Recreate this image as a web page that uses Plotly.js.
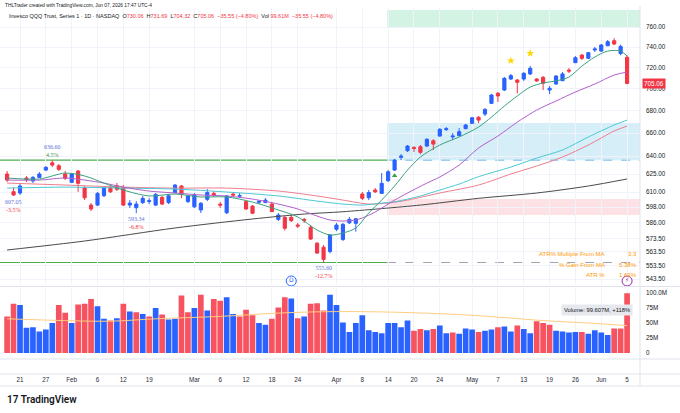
<!DOCTYPE html>
<html><head><meta charset="utf-8">
<script src="https://cdn.plot.ly/plotly-3.0.1.min.js"></script>
<style>html,body{margin:0;padding:0;background:#fff}#chart{width:680px;height:413px}</style>
</head><body><div id="chart"></div>
<script>
// ---------- data ----------
const dates = ['2026-01-16','2026-01-20','2026-01-21','2026-01-22','2026-01-23','2026-01-26','2026-01-27','2026-01-28','2026-01-29','2026-01-30',
'2026-02-02','2026-02-03','2026-02-04','2026-02-05','2026-02-06','2026-02-09','2026-02-10','2026-02-11','2026-02-12','2026-02-13','2026-02-17','2026-02-18','2026-02-19','2026-02-20','2026-02-23','2026-02-24','2026-02-25','2026-02-26','2026-02-27',
'2026-03-02','2026-03-03','2026-03-04','2026-03-05','2026-03-06','2026-03-09','2026-03-10','2026-03-11','2026-03-12','2026-03-13','2026-03-16','2026-03-17','2026-03-18','2026-03-19','2026-03-20','2026-03-23','2026-03-24','2026-03-25','2026-03-26','2026-03-27','2026-03-30','2026-03-31',
'2026-04-01','2026-04-02','2026-04-06','2026-04-07','2026-04-08','2026-04-09','2026-04-10','2026-04-13','2026-04-14','2026-04-15','2026-04-16','2026-04-17','2026-04-20','2026-04-21','2026-04-22','2026-04-23','2026-04-24','2026-04-27','2026-04-28','2026-04-29','2026-04-30',
'2026-05-01','2026-05-04','2026-05-05','2026-05-06','2026-05-07','2026-05-08','2026-05-11','2026-05-12','2026-05-13','2026-05-14','2026-05-15','2026-05-18','2026-05-19','2026-05-20','2026-05-21','2026-05-22','2026-05-26','2026-05-27','2026-05-28','2026-05-29',
'2026-06-01','2026-06-02','2026-06-03','2026-06-04','2026-06-05'];

const opens = [625.0,610.5,609.4,621.7,619.2,622.2,628.3,634.4,631.9,625.0,
618.1,627.5,613.7,599.7,599.7,607.2,613.7,615.3,613.7,599.7,597.6,601.7,602.5,599.7,605.9,601.7,609.8,615.1,602.5,
598.3,595.8,604.3,609.1,600.5,593.6,608.6,606.8,602.5,598.9,601.9,601.7,600.5,588.4,590.0,590.0,584.0,588.4,582.2,570.0,567.0,563.7,
580.7,572.9,585.7,585.3,608.6,605.6,611.8,609.1,619.5,628.3,639.0,644.7,647.4,648.1,648.7,653.3,657.4,663.1,656.6,657.7,663.9,
668.6,674.0,676.9,686.6,695.9,698.9,709.2,708.3,709.2,714.0,709.2,710.8,698.9,704.6,707.6,717.7,724.8,732.2,729.0,737.1,
736.1,741.3,746.3,733.7,730.06];
const highs = [627.5,614.0,616.7,623.3,623.3,626.6,631.6,636.6,633.3,627.5,
625.8,628.3,615.1,601.3,610.2,615.1,615.1,617.6,615.9,603.7,602.9,607.0,605.3,609.4,607.0,608.6,616.7,615.9,607.8,
609.4,602.1,612.6,610.9,602.1,607.8,610.2,609.4,603.7,599.7,603.7,605.3,602.1,593.4,591.0,591.8,585.6,589.5,584.0,571.0,568.7,577.1,
585.6,585.6,590.2,589.5,610.2,611.8,613.4,625.8,628.3,637.6,641.8,649.6,648.7,649.6,655.6,654.7,664.4,665.3,660.0,664.4,668.0,
674.2,675.1,682.3,695.2,697.1,711.1,714.0,709.2,715.8,721.6,710.1,712.0,702.7,713.0,715.8,719.6,731.2,733.2,735.2,740.1,
743.0,747.0,748.8,742.5,731.69];
const lows = [618.4,607.05,607.8,618.4,617.6,621.7,627.5,630.8,627.5,620.0,
617.6,610.4,603.7,595.0,598.9,606.2,609.4,611.0,598.9,597.4,593.34,600.5,600.5,598.9,599.7,600.5,609.4,605.3,601.3,
597.4,593.4,602.9,606.2,597.4,592.6,606.2,605.5,595.8,592.6,600.5,601.3,594.2,587.1,579.6,586.3,581.7,585.6,572.4,562.0,555.6,562.4,
579.3,571.7,584.8,578.8,603.7,603.7,609.4,608.6,618.4,627.5,636.7,643.6,643.6,641.8,647.8,645.3,656.6,661.8,653.9,657.4,663.4,
668.0,668.8,675.1,686.0,687.9,698.0,708.3,695.8,707.4,713.0,706.5,698.9,695.2,703.6,707.4,714.9,724.5,727.4,728.4,735.2,
735.2,741.0,742.0,732.0,704.32];
const closes = [620.0,607.8,615.1,620.4,622.2,625.0,630.6,632.5,628.9,621.4,
625.0,617.3,605.6,596.6,609.1,613.7,610.4,612.4,599.7,601.3,600.5,605.1,603.2,608.3,600.5,607.2,615.9,608.3,607.0,
607.8,601.1,609.8,607.8,599.7,607.0,607.8,607.4,596.6,593.2,602.7,603.7,594.5,591.8,581.5,587.4,583.2,587.4,573.2,562.6,557.9,576.3,
584.0,584.5,588.4,588.9,605.1,609.8,610.4,617.3,626.9,636.7,640.1,648.7,646.6,643.3,654.5,650.4,663.3,663.8,657.4,661.2,667.1,
673.6,671.5,681.1,694.3,693.4,709.9,712.4,706.1,714.6,719.4,707.4,705.2,700.5,712.0,714.0,716.8,729.6,729.0,734.5,738.1,
742.0,745.3,743.0,740.61,705.06];
// volume in millions
const volumes = [61,82,80,42,43,36,39,50,80,67,
50,81,82,90,78,57,54,58,82,69,68,65,61,75,64,56,57,96,68,
75,97,71,90,87,93,65,61,72,63,50,47,57,76,93,91,58,61,82,83,71,97,
80,51,35,50,63,38,35,33,50,50,43,54,37,40,38,40,46,33,34,32,41,
39,35,37,39,43,44,36,46,40,33,53,50,47,37,36,34,35,35,32,38,
34,30,41,41,99.607];

// moving averages
const maFastDates = ['2026-01-16','2026-01-26','2026-01-30','2026-02-04','2026-02-09','2026-02-12','2026-02-19','2026-02-25','2026-03-03','2026-03-09','2026-03-13','2026-03-19','2026-03-24','2026-03-27','2026-03-31','2026-04-02','2026-04-07','2026-04-09','2026-04-13','2026-04-15','2026-04-17','2026-04-21','2026-04-24','2026-04-29','2026-05-04','2026-05-06','2026-05-08','2026-05-12','2026-05-14','2026-05-18','2026-05-20','2026-05-22','2026-05-27','2026-05-29','2026-06-02','2026-06-04','2026-06-05'];
const maFastVals = [621.7,620.9,625.8,623.4,617.5,611.8,607.0,608.6,606.2,606.2,602.1,595.8,590.3,580.1,576.3,577.8,581.7,593.4,603.7,615.1,628.3,639.3,649.6,656.6,665.3,674.2,684.2,693.4,701.7,705.5,707.4,711.1,721.5,730.3,736.1,736.1,731.2];

const maMidDates = ['2026-01-16','2026-01-26','2026-01-30','2026-02-04','2026-02-09','2026-02-12','2026-02-19','2026-02-25','2026-03-03','2026-03-09','2026-03-13','2026-03-19','2026-03-24','2026-03-27','2026-03-31','2026-04-02','2026-04-07','2026-04-08','2026-04-10','2026-04-15','2026-04-17','2026-04-22','2026-04-24','2026-04-29','2026-05-04','2026-05-07','2026-05-12','2026-05-15','2026-05-20','2026-05-26','2026-05-29','2026-06-03','2026-06-05'];
const maMidVals = [620.0,620.0,621.7,620.0,617.5,614.2,611.0,609.4,607.8,607.0,604.5,600.5,596.6,591.0,587.9,587.1,587.9,589.5,594.2,603.7,609.4,617.5,622.5,632.5,647.0,657.4,669.7,680.5,688.8,697.1,704.5,713.0,715.8];

const ma50eDates = ['2026-01-16','2026-01-30','2026-02-12','2026-02-25','2026-03-09','2026-03-19','2026-03-27','2026-04-02','2026-04-08','2026-04-13','2026-04-15','2026-04-21','2026-04-24','2026-04-29','2026-05-04','2026-05-11','2026-05-15','2026-05-21','2026-05-28','2026-06-03','2026-06-05'];
const ma50eVals = [613.4,614.2,613.4,612.6,610.2,607.0,602.9,600.5,599.7,601.3,602.3,607.0,611.8,616.7,622.8,630.8,638.4,645.3,656.6,667.1,671.5];

const ma50sDates = ['2026-01-16','2026-01-30','2026-02-12','2026-02-25','2026-03-09','2026-03-19','2026-03-27','2026-04-02','2026-04-09','2026-04-14','2026-04-17','2026-04-24','2026-05-04','2026-05-11','2026-05-15','2026-05-21','2026-05-28','2026-06-03','2026-06-05'];
const ma50sVals = [617.5,615.9,614.2,613.4,613.4,611.0,607.0,603.7,600.5,601.3,603.7,609.4,615.9,625.0,631.7,639.3,649.6,661.8,666.2];

const ma200Dates = ['2026-01-16','2026-02-04','2026-02-25','2026-03-13','2026-03-25','2026-04-02','2026-04-21','2026-05-04','2026-05-15','2026-05-28','2026-06-05'];
const ma200Vals = [564.9,571.7,581.7,588.7,592.6,594.4,599.7,605.1,609.4,615.1,620.9];

const volMaDates = ['2026-01-16','2026-01-30','2026-02-10','2026-02-20','2026-03-06','2026-03-20','2026-04-01','2026-04-15','2026-04-29','2026-05-08','2026-05-18','2026-05-28','2026-06-05'];
const volMaVals = [57,54,53,57,61,67,69,68,64,59,54,50,45.7];

const tickDates = ['2026-01-21','2026-01-27','2026-02-02','2026-02-06','2026-02-12','2026-02-19','2026-03-02','2026-03-06','2026-03-12','2026-03-18','2026-03-24','2026-04-01','2026-04-08','2026-04-14','2026-04-20','2026-04-24','2026-05-01','2026-05-07','2026-05-13','2026-05-19','2026-05-26','2026-06-01','2026-06-05'];
const tickLabels = ['21','27','Feb','6','12','19','Mar','6','12','18','24','Apr','8','14','20','24','May','7','13','19','26','Jun','5'];
const priceTicks = [760,740,720,700,680,660,640,625,610,598,586,573.5,563.5,553.5,543.5];
const volTicks = [0,25,50,75,100];
const volTickLabels = ['0','25M','50M','75M','100.0M'];

// swing high / low labels
const swingDates = ['2026-01-28','2026-01-20','2026-02-17','2026-03-30'];
const swingPrices = [636.60,607.05,593.34,555.60];
const swingPct = ['4.5%','-3.5%','-6.8%','-12.7%'];
const swingIsHigh = [true,false,false,false];

// levels and zones
const levelHigh = 636.6, levelLow = 555.6;
const zoneStart = '2026-04-14';
const zoneGreen = [760, 777.4];
const zoneBlue = [636.6, 668.8];
const zoneRed = [591.8, 604.5];

const signalDates = ['2026-04-15']; const signalPrices = [623.6];
const starDates = ['2026-05-11','2026-05-14']; const starPrices = [726.7,733.9];
const eventDates = ['2026-03-23','2026-06-05']; const eventLabels = ['D','⚡']; const eventPrices = [542.1,542.1];

const atrStats = [['ATR% Multiple From MA','3.3'],['% Gain From MA','5.38%'],['ATR %','1.63%']];

// ---------- layout helpers ----------
const W = 680, H = 413;
const py = p => 1 - p / H;
const pxX = p => p / W;
const L = Math.log10;
const UP = '#2962ff', DN = '#f23645';
const n = dates.length;
const zIdx = dates.indexOf(zoneStart) - 0.15;
const xMin = -1.1, xMax = 98;

const volColors = volumes.map((v, i) => (i > 0 && closes[i] >= closes[i-1]) ? UP : '#f7525f');

const traces = [];
traces.push({type:'candlestick', x:dates, open:opens, high:highs, low:lows, close:closes,
  xaxis:'x', yaxis:'y', whiskerwidth:0, hoverinfo:'skip',
  increasing:{line:{color:UP,width:1}, fillcolor:UP},
  decreasing:{line:{color:DN,width:1}, fillcolor:DN}});
function maLine(xs, ys, color, w){ return {type:'scatter', mode:'lines', x:xs, y:ys, xaxis:'x', yaxis:'y',
  line:{color:color, width:w||1, shape:'spline', smoothing:0.8}, hoverinfo:'skip'}; }
traces.push(maLine(ma200Dates, ma200Vals, '#4a4a4a'));
traces.push(maLine(ma50sDates, ma50sVals, '#ef7d8f'));
traces.push(maLine(ma50eDates, ma50eVals, '#4cc9d4'));
traces.push(maLine(maMidDates, maMidVals, '#b35fcc'));
traces.push(maLine(maFastDates, maFastVals, '#3aa17e'));
traces.push({type:'bar', x:dates, y:volumes, xaxis:'x', yaxis:'y2', marker:{color:volColors, line:{width:0}}, hoverinfo:'skip'});
traces.push({type:'scatter', mode:'lines', x:volMaDates, y:volMaVals, xaxis:'x', yaxis:'y2', line:{color:'#ffcc80', width:1, shape:'spline'}, hoverinfo:'skip'});
traces.push({type:'scatter', mode:'markers', x:signalDates, y:signalPrices, xaxis:'x', yaxis:'y', marker:{symbol:'triangle-up', size:5, color:'#43a047'}, hoverinfo:'skip'});
traces.push({type:'scatter', mode:'markers', x:starDates, y:starPrices, xaxis:'x', yaxis:'y', marker:{symbol:'star', size:6, color:'#ffd600'}, hoverinfo:'skip'});
traces.push({type:'scatter', mode:'markers+text', x:eventDates, y:eventPrices, xaxis:'x', yaxis:'y', cliponaxis:false,
  text:eventLabels, textposition:'middle center', textfont:{family:'DejaVu Sans', size:6, color:['#2962ff','#9c27b0']},
  marker:{symbol:'circle', size:10, color:'#ffffff', line:{color:['#2962ff','#9c27b0'], width:1}}, hoverinfo:'skip'});

const annotations = [];
// header
const last = n - 1;
const chg = closes[last] - closes[last-1];
const chgTxt = '\u2212' + Math.abs(chg).toFixed(2) + ' (\u2212' + Math.abs(chg / closes[last-1] * 100).toFixed(2) + '%)';
const rs = t => "<span style='color:" + DN + "'>" + t + "</span>";
annotations.push({xref:'paper', yref:'paper', x:pxX(3), y:py(5.5), xanchor:'left', yanchor:'middle', showarrow:false,
  text:'THLTrader created with TradingView.com, Jun 07, 2026 17:47 UTC-4', font:{family:'Liberation Sans', size:4.8, color:'#131722'}});
annotations.push({xref:'paper', yref:'paper', x:pxX(7), y:py(16), xanchor:'left', yanchor:'middle', showarrow:false,
  text:'Invesco QQQ Trust, Series 1 · 1D · NASDAQ  O' + rs(opens[last].toFixed(2)) + '  H' + rs(highs[last].toFixed(2)) + '  L' + rs(lows[last].toFixed(2)) + '  C' + rs(closes[last].toFixed(2)) + '  ' + rs(chgTxt) + '  Vol ' + rs(volumes[last].toFixed(2) + 'M') + '  ' + rs(chgTxt),
  font:{family:'Liberation Sans', size:5.5, color:'#131722'}});
// swing labels
swingDates.forEach((d, i) => {
  const hi = swingIsHigh[i];
  annotations.push({x:d, y:L(swingPrices[i]), xref:'x', yref:'y', showarrow:false, xanchor:'center',
    yanchor: hi ? 'bottom' : 'top', yshift: hi ? 0 : -1,
    text: "<span style='color:#5b72d6'>" + swingPrices[i].toFixed(2) + "</span><br><span style='color:" + (hi ? '#3e8e41' : DN) + "'>" + swingPct[i] + "</span>",
    font:{family:'Liberation Serif', size:6}});
});
// last price tag
annotations.push({xref:'paper', yref:'y', x:pxX(642), y:L(closes[last]), xanchor:'left', yanchor:'middle', showarrow:false,
  text:closes[last].toFixed(2), bgcolor:DN, borderpad:1, font:{family:'Liberation Sans', size:6.3, color:'#ffffff'}});
// volume label
annotations.push({xref:'paper', yref:'paper', x:pxX(633), y:py(310), xanchor:'right', yanchor:'middle', showarrow:false,
  text:'Volume: ' + volumes[last].toFixed(3) + 'M, +118%', bgcolor:'#e6e8ee', borderpad:2, font:{family:'Liberation Sans', size:5.8, color:'#131722'}});
// ATR stats
atrStats.forEach((s, i) => {
  const yy = py(254 + i * 10.5);
  annotations.push({xref:'paper', yref:'paper', x:pxX(607), y:yy, xanchor:'right', yanchor:'middle', showarrow:false,
    text:s[0], font:{family:'Liberation Sans', size:6, color:'#ff9800'}});
  annotations.push({xref:'paper', yref:'paper', x:pxX(639), y:yy, xanchor:'right', yanchor:'middle', showarrow:false,
    text:s[1], font:{family:'Liberation Sans', size:6, color:'#ff9800'}});
});
// logo
annotations.push({xref:'paper', yref:'paper', x:pxX(5), y:py(399), xanchor:'left', yanchor:'middle', showarrow:false,
  text:'17 TradingView', font:{family:'Roboto', size:10, weight:600, color:'#131722'}});

const shapes = [];
const rect = (x0, x1, y0, y1, color) => ({type:'rect', xref:'x', yref:'y', x0:x0, x1:x1, y0:y0, y1:y1, fillcolor:color, line:{width:0}, layer:'below'});
shapes.push(rect(zIdx, xMax, zoneGreen[0], zoneGreen[1], '#d3f4e4'));
shapes.push(rect(zIdx, xMax, zoneBlue[0], zoneBlue[1], '#d5eef8'));
shapes.push(rect(zIdx, xMax, zoneRed[0], zoneRed[1], '#fde1e4'));
const hline = (x0, x1, y, color, dash, w) => ({type:'line', xref:'x', yref:'y', x0:x0, x1:x1, y0:y, y1:y, line:{color:color, width:w||1, dash:dash||'solid'}, layer:'below'});
shapes.push(hline(xMin, zIdx, levelHigh, '#4caf50', 'solid', 1.2));
shapes.push(hline(xMin, zIdx, levelLow, '#4caf50', 'solid', 1.2));
shapes.push(hline(zIdx, xMax, levelHigh, '#7cb9e8', 'dash', 1));
shapes.push(hline(zIdx, xMax, levelLow, '#a0a4ad', 'dash', 1));
// pane separators
[286.5, 359, 374, 386].forEach(p => shapes.push({type:'line', xref:'paper', yref:'paper', x0:0, x1:1, y0:py(p), y1:py(p), line:{color:'#e0e3eb', width:1}}));
shapes.push({type:'line', xref:'paper', yref:'paper', x0:pxX(640), x1:pxX(640), y0:py(386), y1:py(6), line:{color:'#e0e3eb', width:1}});

const layout = {
  width:W, height:H, margin:{l:0, r:0, t:0, b:0}, paper_bgcolor:'#ffffff', plot_bgcolor:'#ffffff',
  showlegend:false, hovermode:false, boxgap:0.3,
  font:{family:'Liberation Sans', size:6.5, color:'#131722'},
  xaxis:{type:'category', categoryorder:'array', categoryarray:dates, range:[xMin, xMax], domain:[0, 640/W],
    anchor:'free', position:py(375), rangeslider:{visible:false}, tickmode:'array', tickvals:tickDates, ticktext:tickLabels,
    showgrid:true, gridcolor:'#f0f3fa', gridwidth:1, zeroline:false, showline:false, ticks:'', tickfont:{size:6.3, color:'#2a2e39'}},
  yaxis:{type:'log', domain:[py(285), py(8)], range:[L(539.2), L(779.5)], side:'right', anchor:'x',
    tickmode:'array', tickvals:priceTicks, ticktext:priceTicks.map(v => v.toFixed(2)), ticklabelstandoff:5,
    showgrid:true, gridcolor:'#f0f3fa', zeroline:false, showline:false, ticks:'', tickfont:{size:6.3, color:'#131722'}},
  yaxis2:{domain:[py(353), py(288.8)], range:[0, 107], side:'right', anchor:'x',
    tickmode:'array', tickvals:volTicks, ticktext:volTickLabels, ticklabelstandoff:5,
    showgrid:false, zeroline:false, showline:false, ticks:'', tickfont:{size:6.3, color:'#131722'}},
  bargap:0.12,
  annotations:annotations, shapes:shapes
};
Plotly.newPlot('chart', traces, layout, {staticPlot:true, displayModeBar:false});
</script>
</body></html>
